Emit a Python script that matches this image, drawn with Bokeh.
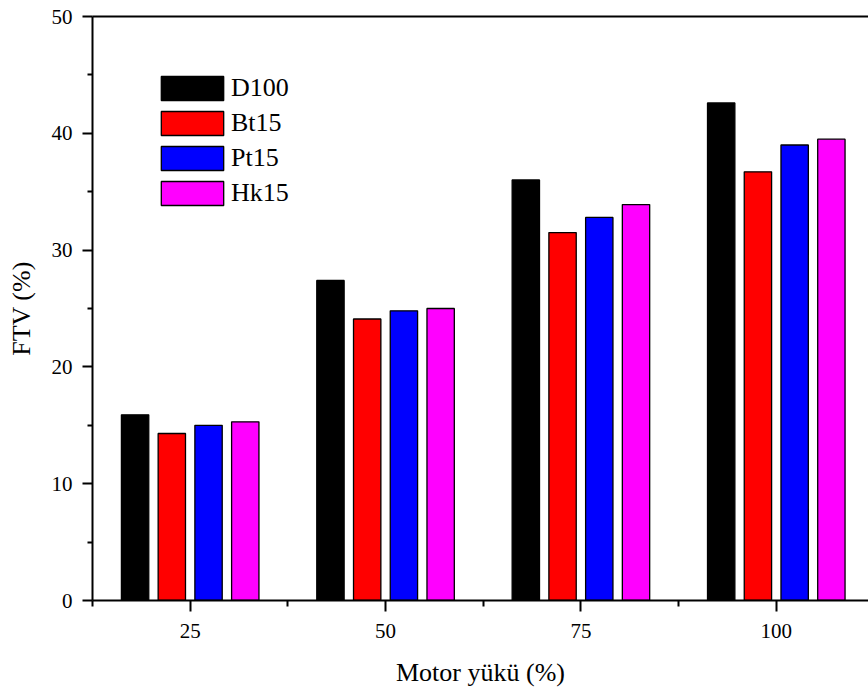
from bokeh.plotting import figure
from bokeh.models import ColumnDataSource, Range1d, FixedTicker, LinearAxis, Legend, LegendItem
from bokeh.transform import dodge
from bokeh.embed import file_html
from bokeh.resources import INLINE

# Engine load (%) and FTV (%) for each fuel blend
loads = [25, 50, 75, 100]
d100 = [15.9, 27.4, 36.0, 42.6]
bt15 = [14.3, 24.1, 31.5, 36.7]
pt15 = [15.0, 24.8, 32.8, 39.0]
hk15 = [15.3, 25.0, 33.9, 39.5]

series_names = ["D100", "Bt15", "Pt15", "Hk15"]
series_values = [d100, bt15, pt15, hk15]
colors = ["#000000", "#ff0000", "#0000ff", "#ff00ff"]
offsets = [-7.05, -2.35, 2.35, 7.05]

x_ticks = [25, 50, 75, 100]
x_minor = [12.5, 37.5, 62.5, 87.5, 112.5]
y_ticks = [0, 10, 20, 30, 40, 50]
y_minor = [5, 15, 25, 35, 45]

FONT = "Times New Roman, Liberation Serif, serif"

source = ColumnDataSource(dict(load=loads, **{n: v for n, v in zip(series_names, series_values)}))

p = figure(width=868, height=693,
           x_range=Range1d(12.5, 111.8), y_range=Range1d(0, 50),
           output_backend="svg", toolbar_location=None,
           min_border_left=92, min_border_right=0,
           min_border_top=16, min_border_bottom=93)
p.outline_line_color = None
p.xgrid.visible = False
p.ygrid.visible = False
p.background_fill_color = "white"
p.border_fill_color = "white"

renderers = []
for name, color, off in zip(series_names, colors, offsets):
    r = p.vbar(x=dodge("load", off), top=name, width=3.5, bottom=0, source=source,
               fill_color=color, line_color="black", line_width=1.3)
    renderers.append(r)

xa = p.xaxis[0]
xa.ticker = FixedTicker(ticks=x_ticks, minor_ticks=x_minor)
xa.axis_label = "Motor yükü (%)"
xa.major_tick_out = 11
xa.minor_tick_out = 6
xa.major_label_standoff = 12
xa.axis_label_standoff = 17

ya = p.yaxis[0]
ya.ticker = FixedTicker(ticks=y_ticks, minor_ticks=y_minor)
ya.axis_label = "FTV (%)"
ya.major_tick_out = 10
ya.minor_tick_out = 5
ya.major_label_standoff = 10
ya.axis_label_standoff = 13

for ax in (xa, ya):
    ax.axis_line_width = 2
    ax.major_tick_line_width = 2
    ax.minor_tick_line_width = 2
    ax.major_tick_in = 0
    ax.minor_tick_in = 0
    ax.major_label_text_font = FONT
    ax.major_label_text_font_size = "21px"
    ax.major_label_text_color = "black"
    ax.axis_label_text_font = FONT
    ax.axis_label_text_font_size = "26px"
    ax.axis_label_text_font_style = "normal"
    ax.axis_label_text_color = "black"

# top frame line
top = LinearAxis(ticker=FixedTicker(ticks=[]), axis_line_width=2,
                 major_tick_out=0, minor_tick_out=0,
                 major_label_text_font_size="0px")
p.add_layout(top, "above")

legend = Legend(items=[LegendItem(label=n, renderers=[r]) for n, r in zip(series_names, renderers)],
                location=(61, 392), glyph_width=78, glyph_height=30,
                label_standoff=0, spacing=5, padding=0, margin=0,
                border_line_color=None, background_fill_alpha=0,
                label_text_font=FONT, label_text_font_size="26px",
                label_text_color="black", label_height=30)
p.add_layout(legend)

open("out.html", "w").write(file_html(p, INLINE))
